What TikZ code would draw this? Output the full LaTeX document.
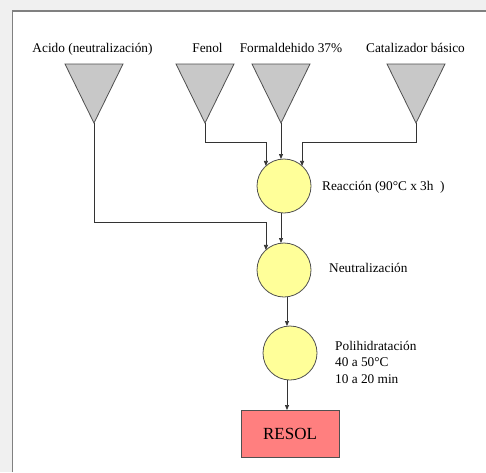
\documentclass[tikz,border=0pt]{standalone}
\usepackage{fontspec}
\setmainfont{Liberation Serif}
\usetikzlibrary{arrows.meta,calc}
\definecolor{bgray}{HTML}{F0F0F0}
\definecolor{framegray}{HTML}{808080}
\definecolor{edgegray}{HTML}{505050}
\definecolor{trifill}{HTML}{C8C8C8}
\definecolor{cirfill}{HTML}{FFFF99}
\definecolor{boxfill}{HTML}{FF7F7F}
\tikzset{
  lbl/.style={font=\fontsize{13.3}{16}\selectfont, inner sep=0pt, text=black},
  hopper/.style={draw=edgegray, fill=trifill, line width=0.8pt},
  vessel/.style={circle, draw=edgegray, fill=cirfill, line width=0.8pt, minimum size=54pt, inner sep=0pt, outer sep=0pt},
  product/.style={rectangle, draw=edgegray, fill=boxfill, line width=0.8pt, minimum width=98pt, minimum height=47pt, inner sep=0pt, outer sep=0pt, font=\fontsize{17}{20}\selectfont},
  arr/.style={draw=black!80, line width=0.7pt, -{Triangle[length=5pt,width=4pt]}},
  ln/.style={draw=black!80, line width=0.7pt}
}
\begin{document}
\begin{tikzpicture}[x=1pt,y=-1pt]
\useasboundingbox (0,0) rectangle (486,472);
\fill[bgray] (0,0) rectangle (486,472);
\fill[white] (12.5,11) rectangle (486,472);
\draw[framegray, line width=1.2pt] (12.5,472) -- (12.5,11) -- (486,11);

% labels
\node[lbl, anchor=base] (l1) at (92.5,52) {Acido (neutralización)};
\node[lbl, anchor=base] (l2) at (207.5,52) {Fenol};
\node[lbl, anchor=base] (l3) at (291,52) {Formaldehido 37\%};
\node[lbl, anchor=base] (l4) at (415.5,52) {Catalizador básico};

% hoppers
\coordinate (t1) at (94,123);
\coordinate (t2) at (205,123);
\coordinate (t3) at (281,123);
\coordinate (t4) at (416,123);
\draw[hopper] (65,64) -- (123,64) -- (t1) -- cycle;
\draw[hopper] (176,64) -- (234,64) -- (t2) -- cycle;
\draw[hopper] (252,64) -- (310,64) -- (t3) -- cycle;
\draw[hopper] (387,64) -- (445,64) -- (t4) -- cycle;

% vessels
\node[vessel] (c1) at (284,186) {};
\node[vessel] (c2) at (284,270) {};
\node[vessel] (c3) at (290,353) {};
\node[product] (res) at (290,433.5) {RESOL};

% vessel labels
\node[lbl, anchor=base west] (r1) at (322,190) {Reacción (90°C x 3h\ \ )};
\node[lbl, anchor=base west] (r2) at (329,272) {Neutralización};
\node[lbl, anchor=base west, align=left] (r3) at (335,350) {Polihidratación};
\node[lbl, anchor=base west] (r4) at (335,366.5) {40 a 50°C};
\node[lbl, anchor=base west] (r5) at (335,383) {10 a 20 min};

% connectors
\draw[arr] (t2) -- ++(0,19) -| (c1.132);
\draw[arr] (t4) -- ++(0,19) -| (c1.48);
\draw[arr] (t3) -- (t3 |- c1.north);
\draw[arr] (t1) -- ++(0,99) -| (c2.132);
\draw[arr] (t3 |- c1.south) -- (t3 |- c2.north);
\draw[arr] ([xshift=3pt]c2.south) -- ([xshift=-3pt]c3.north);
\draw[arr] ([xshift=-3pt]c3.south) -- ([xshift=-3pt]c3.south |- res.north);
\end{tikzpicture}
\end{document}
